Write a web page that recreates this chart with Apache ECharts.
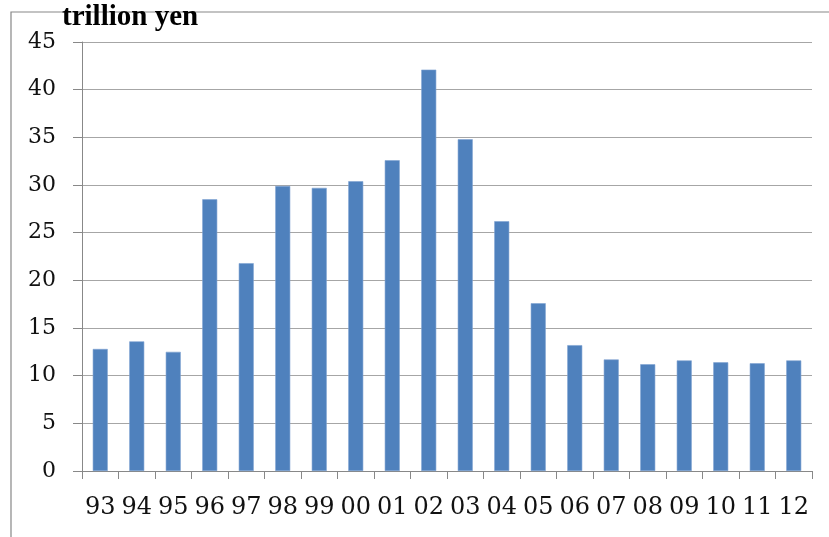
<!DOCTYPE html>
<html>
<head>
<meta charset="utf-8">
<script src="https://cdn.jsdelivr.net/npm/echarts@6/dist/echarts.min.js"></script>
<style>
  html, body { margin: 0; padding: 0; background: #ffffff; }
  #chart { width: 829px; height: 537px; }
</style>
</head>
<body>
<div id="chart"></div>
<script>
// Fiscal years (two-digit) and annual amounts in trillion yen
const years = ['93', '94', '95', '96', '97', '98', '99', '00', '01', '02',
               '03', '04', '05', '06', '07', '08', '09', '10', '11', '12'];
const amounts = [12.8, 13.6, 12.5, 28.5, 21.8, 29.9, 29.7, 30.4, 32.6, 42.1,
                 34.8, 26.2, 17.6, 13.2, 11.7, 11.2, 11.6, 11.4, 11.3, 11.6];
const unitLabel = 'trillion yen';
const yMax = 45;
const yStep = 5;

const serifFont = '"DejaVu Serif", "Liberation Serif", serif';
const titleFont = '"Liberation Serif", "DejaVu Serif", serif';

const chart = echarts.init(document.getElementById('chart'), null, { renderer: 'canvas' });

chart.setOption({
  animation: false,
  backgroundColor: '#ffffff',
  title: {
    text: unitLabel,
    left: 62,
    top: 3,
    padding: 0,
    textStyle: {
      fontFamily: titleFont,
      fontWeight: 'bold',
      fontSize: 29,
      color: '#000000'
    }
  },
  graphic: [
    {
      type: 'rect',
      shape: { x: 11, y: 12, width: 900, height: 700 },
      style: { fill: null, stroke: '#878787', lineWidth: 1.2 },
      z: -1
    }
  ],
  grid: { left: 82, right: 17, top: 42, bottom: 66 },
  xAxis: {
    type: 'category',
    data: years,
    axisLine: { lineStyle: { color: '#888888', width: 1 } },
    axisTick: { show: true, length: 8, alignWithLabel: false, lineStyle: { color: '#888888' } },
    axisLabel: {
      interval: 0,
      margin: 25,
      fontFamily: serifFont,
      fontSize: 24,
      color: '#111111'
    }
  },
  yAxis: {
    type: 'value',
    min: 0,
    max: yMax,
    interval: yStep,
    axisLine: { show: true, lineStyle: { color: '#888888', width: 1 } },
    axisTick: { show: true, length: 9, lineStyle: { color: '#888888' } },
    splitLine: { lineStyle: { color: '#a6a6a6', width: 1.2 } },
    axisLabel: {
      margin: 26,
      fontFamily: serifFont,
      fontSize: 22,
      color: '#111111'
    }
  },
  series: [
    {
      type: 'bar',
      data: amounts,
      barWidth: 15,
      itemStyle: {
        color: '#4f81bd',
        borderColor: '#7fa3d2',
        borderWidth: 0.6
      }
    }
  ]
});
</script>
</body>
</html>
